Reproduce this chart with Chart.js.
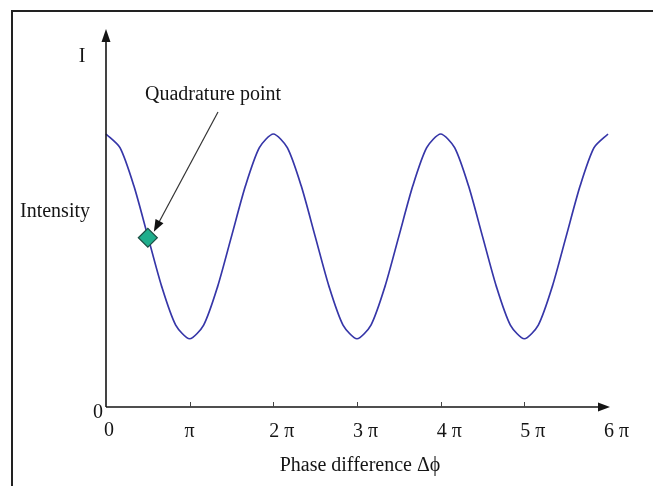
<!DOCTYPE html>
<html><head><meta charset="utf-8">
<script src="https://cdn.jsdelivr.net/npm/chart.js@4/dist/chart.umd.min.js"></script>
<style>html,body{margin:0;padding:0;background:#fff;overflow:hidden}#wrap{width:653px;height:486px}</style>
</head><body><div id="wrap"><canvas id="c" width="653" height="486"></canvas></div>
<script>
// Phase difference in units of π
const phase = [0, 0.167, 0.333, 0.5, 0.667, 0.833, 1, 1.167, 1.333, 1.5, 1.667, 1.833,
  2, 2.167, 2.333, 2.5, 2.667, 2.833, 3, 3.167, 3.333, 3.5, 3.667, 3.833,
  4, 4.167, 4.333, 4.5, 4.667, 4.833, 5, 5.167, 5.333, 5.5, 5.667, 5.833, 6];
// Intensity (relative)
const intensity = [1, 0.95, 0.81, 0.625, 0.44, 0.30, 0.25, 0.30, 0.44, 0.625, 0.81, 0.95,
  1, 0.95, 0.81, 0.625, 0.44, 0.30, 0.25, 0.30, 0.44, 0.625, 0.81, 0.95,
  1, 0.95, 0.81, 0.625, 0.44, 0.30, 0.25, 0.30, 0.44, 0.625, 0.81, 0.95, 1];
const quadPhase = [0.5];
const quadIntensity = [0.62];
const tickValues = [0, 1, 2, 3, 4, 5, 6];
const tickLabels = ['0', 'π', '2 π', '3 π', '4 π', '5 π', '6 π'];
const yAxisTitle = 'I';
const yAxisLabel = 'Intensity';
const xAxisTitle = 'Phase difference Δϕ';
const pointLabel = 'Quadrature point';
const originLabel = '0';

const FONT = '20px "Liberation Serif", "Times New Roman", serif';
const INK = '#151515';

const decor = {
  id: 'decor',
  afterDraw(chart) {
    const c = chart.ctx, xs = chart.scales.x, ys = chart.scales.y;
    const x0 = xs.getPixelForValue(0), y0 = ys.getPixelForValue(0);
    const xEnd = xs.getPixelForValue(6), yTop = ys.getPixelForValue(ys.max);
    c.save();
    // outer frame
    c.strokeStyle = '#222'; c.lineWidth = 2;
    c.beginPath(); c.moveTo(12, 486); c.lineTo(12, 11); c.lineTo(653, 11); c.stroke();
    // axes
    c.strokeStyle = INK; c.fillStyle = INK; c.lineWidth = 1.6;
    c.beginPath(); c.moveTo(x0, y0); c.lineTo(x0, yTop + 12); c.stroke();
    c.beginPath(); c.moveTo(x0, y0); c.lineTo(xEnd - 8, y0); c.stroke();
    c.beginPath(); c.moveTo(x0, yTop); c.lineTo(x0 - 4.5, yTop + 13); c.lineTo(x0 + 4.5, yTop + 13); c.closePath(); c.fill();
    c.beginPath(); c.moveTo(xEnd + 2, y0); c.lineTo(xEnd - 10, y0 - 4.5); c.lineTo(xEnd - 10, y0 + 4.5); c.closePath(); c.fill();
    // ticks
    c.lineWidth = 1; c.strokeStyle = '#444';
    tickValues.forEach(v => {
      if (v === 0 || v === 6) return;
      const px = Math.round(xs.getPixelForValue(v)) + 0.5;
      c.beginPath(); c.moveTo(px, y0); c.lineTo(px, y0 - 5); c.stroke();
    });
    // tick labels
    c.font = FONT; c.textBaseline = 'middle'; c.fillStyle = INK;
    tickValues.forEach((v, i) => {
      const px = xs.getPixelForValue(v);
      const t = tickLabels[i];
      if (i === 0) { c.textAlign = 'center'; c.fillText(t, px + 3, y0 + 24); }
      else if (t === 'π') { c.textAlign = 'center'; c.fillText(t, px, y0 + 25); }
      else { c.textAlign = 'left'; c.fillText(t, px - 4, y0 + 25); }
    });
    c.textAlign = 'center';
    c.fillText(originLabel, x0 - 8, y0 + 6);
    c.fillText(yAxisTitle, x0 - 24, 57);
    c.textAlign = 'left';
    c.fillText(yAxisLabel, 20, 212);
    c.textAlign = 'center';
    c.fillText(xAxisTitle, 360, 466);
    c.fillText(pointLabel, 213, 95);
    // arrow to quadrature point
    const px = xs.getPixelForValue(quadPhase[0]), py = ys.getPixelForValue(quadIntensity[0]);
    const sx = 218, sy = 112, tx = px + 6, ty = py - 6;
    const ang = Math.atan2(ty - sy, tx - sx);
    c.strokeStyle = '#333'; c.lineWidth = 1.2;
    c.beginPath(); c.moveTo(sx, sy); c.lineTo(tx - 8 * Math.cos(ang), ty - 8 * Math.sin(ang)); c.stroke();
    c.fillStyle = '#111';
    c.beginPath(); c.moveTo(tx, ty);
    c.lineTo(tx - 12 * Math.cos(ang) + 4.5 * Math.sin(ang), ty - 12 * Math.sin(ang) - 4.5 * Math.cos(ang));
    c.lineTo(tx - 12 * Math.cos(ang) - 4.5 * Math.sin(ang), ty - 12 * Math.sin(ang) + 4.5 * Math.cos(ang));
    c.closePath(); c.fill();
    c.restore();
  }
};

new Chart(document.getElementById('c'), {
  type: 'line',
  data: {
    datasets: [
      { data: quadPhase.map((p, i) => ({ x: p, y: quadIntensity[i] })), pointStyle: 'rectRot', pointRadius: 9.5,
        backgroundColor: '#1fae8c', borderColor: '#1d4f44', borderWidth: 1.2, showLine: false, order: 0 },
      { data: phase.map((p, i) => ({ x: p, y: intensity[i] })), borderColor: '#3636a8', borderWidth: 1.7,
        pointRadius: 0, tension: 0.25, fill: false, clip: false, order: 1 }
    ]
  },
  options: {
    responsive: false, animation: false, devicePixelRatio: 1,
    layout: { padding: { left: 106, right: 45, top: 29, bottom: 79 } },
    plugins: { legend: { display: false }, tooltip: { enabled: false } },
    scales: {
      x: { type: 'linear', min: 0, max: 6, display: false },
      y: { type: 'linear', min: 0, max: 1.3846, display: false }
    }
  },
  plugins: [decor]
});
</script></body></html>
